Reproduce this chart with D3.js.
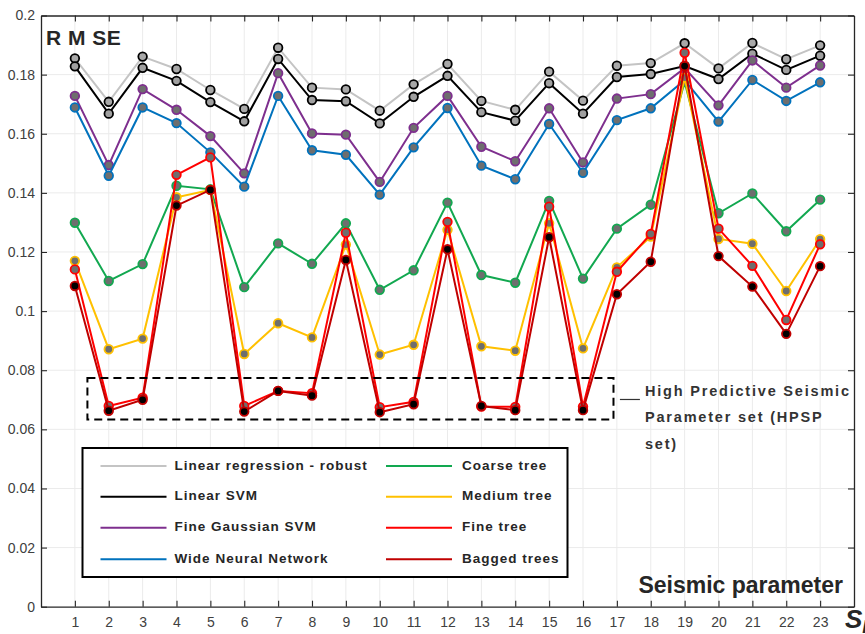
<!DOCTYPE html>
<html>
<head>
<meta charset="utf-8">
<script src="https://cdn.jsdelivr.net/npm/d3@7"></script>
<style>
  body { margin: 0; background: #fff; }
  text { font-family: "Liberation Sans", Arial, sans-serif; }
</style>
</head>
<body>
<svg id="chart"></svg>
<script>
// RMSE of each regression model for the 23 seismic parameters

var params = [1, 2, 3, 4, 5, 6, 7, 8, 9, 10, 11, 12, 13, 14, 15, 16, 17, 18, 19, 20, 21, 22, 23];
var yTicks = [0, 0.02, 0.04, 0.06, 0.08, 0.1, 0.12, 0.14, 0.16, 0.18, 0.2];

var linRegRobust = [0.1855, 0.1708, 0.1861, 0.1819, 0.1748, 0.1684, 0.1891, 0.1756, 0.1750, 0.1678, 0.1767, 0.1836,
  0.1711, 0.1681, 0.1810, 0.1712, 0.1830, 0.1839, 0.1906, 0.1821, 0.1907, 0.1852, 0.1899];
var linearSVM = [0.1828, 0.1668, 0.1823, 0.1779, 0.1707, 0.1642, 0.1853, 0.1714, 0.1710, 0.1635, 0.1725, 0.1796,
  0.1673, 0.1644, 0.1771, 0.1668, 0.1792, 0.1802, 0.1829, 0.1785, 0.1871, 0.1816, 0.1864];
var fineGaussSVM = [0.1728, 0.1494, 0.1751, 0.1681, 0.1592, 0.1466, 0.1805, 0.1601, 0.1597, 0.1437, 0.1620, 0.1728,
  0.1556, 0.1507, 0.1686, 0.1503, 0.1719, 0.1734, 0.1822, 0.1696, 0.1848, 0.1756, 0.1831];
var wideNN = [0.1689, 0.1458, 0.1689, 0.1636, 0.1537, 0.1421, 0.1728, 0.1544, 0.1529, 0.1394, 0.1554, 0.1687,
  0.1492, 0.1446, 0.1633, 0.1468, 0.1646, 0.1686, 0.1781, 0.1641, 0.1782, 0.1711, 0.1774];
var coarseTree = [0.1299, 0.1102, 0.1159, 0.1424, 0.1412, 0.1081, 0.1229, 0.1160, 0.1297, 0.1072, 0.1138, 0.1367,
  0.1122, 0.1096, 0.1373, 0.1110, 0.1279, 0.1360, 0.1775, 0.1331, 0.1398, 0.1270, 0.1377];
var mediumTree = [0.1170, 0.0871, 0.0907, 0.1385, 0.1410, 0.0855, 0.0959, 0.0911, 0.1225, 0.0853, 0.0886, 0.1275,
  0.0881, 0.0866, 0.1297, 0.0874, 0.1148, 0.1252, 0.1790, 0.1244, 0.1228, 0.1068, 0.1243];
var fineTree = [0.1141, 0.0679, 0.0707, 0.1461, 0.1520, 0.0679, 0.0730, 0.0722, 0.1265, 0.0675, 0.0693, 0.1302,
  0.0677, 0.0676, 0.1353, 0.0677, 0.1133, 0.1261, 0.1874, 0.1279, 0.1153, 0.0970, 0.1226];
var baggedTrees = [0.1085, 0.0663, 0.0700, 0.1357, 0.1410, 0.0660, 0.0730, 0.0714, 0.1173, 0.0658, 0.0685, 0.1209,
  0.0679, 0.0665, 0.1250, 0.0665, 0.1057, 0.1167, 0.1829, 0.1186, 0.1083, 0.0923, 0.1152];

var seriesNames = ["Linear regression - robust", "Linear SVM", "Fine Gaussian SVM", "Wide Neural Network",
  "Coarse tree", "Medium tree", "Fine tree", "Bagged trees"];
var seriesValues = [linRegRobust, linearSVM, fineGaussSVM, wideNN, coarseTree, mediumTree, fineTree, baggedTrees];
var lineColors = ["#c4c4c4", "#000000", "#7e2f8e", "#0072bd", "#12a850", "#ffc000", "#ff0000", "#c00000"];
var markerFills = ["#a8a8a8", "#a0a0a0", "#6e6e6e", "#6e6e6e", "#6e6e6e", "#6e6e6e", "#6e6e6e", "#000000"];
var markerEdges = ["#000000", "#000000", "#7e2f8e", "#0072bd", "#12a850", "#ffc000", "#ff0000", "#c00000"];

// dashed box around the HPSP points (parameter / RMSE units)
var hpspBox = { x0: 1.37, x1: 16.9, y0: 0.0633, y1: 0.0774 };
var hpspText = ["High Predictive Seismic", "Parameter set (HPSP", "set)"];

var width = 865, height = 634;
var margin = { top: 15.5, right: 11, bottom: 27.3, left: 41 };
var w = width - margin.left - margin.right;
var h = height - margin.top - margin.bottom;

var svg = d3.select("#chart")
  .attr("width", width)
  .attr("height", height);

var g = svg.append("g")
  .attr("transform", "translate(" + margin.left + "," + margin.top + ")");

var x = d3.scaleLinear().domain([0, 24]).range([0, w]);
var y = d3.scaleLinear().domain([0, 0.2]).range([h, 0]);

// grid
g.append("g").selectAll("line.hg")
  .data(yTicks.slice(1, -1))
  .enter().append("line")
  .attr("x1", 0).attr("x2", w)
  .attr("y1", d => y(d)).attr("y2", d => y(d))
  .attr("stroke", "#ebebeb").attr("stroke-width", 1);

g.append("g").selectAll("line.vg")
  .data(params)
  .enter().append("line")
  .attr("x1", d => x(d)).attr("x2", d => x(d))
  .attr("y1", 0).attr("y2", h)
  .attr("stroke", "#ebebeb").attr("stroke-width", 1);

// axes (box with inward ticks)
var axisColor = "#262626";
function styleAxis(sel) {
  sel.select(".domain").attr("stroke", axisColor).attr("stroke-width", 1.3);
  sel.selectAll(".tick line").attr("stroke", axisColor).attr("stroke-width", 1.1);
  sel.selectAll(".tick text").attr("fill", "#404040").style("font-size", "14px")
    .style("font-family", "'Liberation Sans', Arial, sans-serif");
}

g.append("g")
  .attr("transform", "translate(0," + h + ")")
  .call(d3.axisBottom(x).tickValues(params).tickSizeInner(-6).tickSizeOuter(0).tickPadding(10).tickFormat(d3.format("d")))
  .call(styleAxis);

g.append("g")
  .call(d3.axisTop(x).tickValues(params).tickSizeInner(-6).tickSizeOuter(0).tickFormat(""))
  .call(styleAxis);

g.append("g")
  .call(d3.axisLeft(y).tickValues(yTicks).tickSizeInner(-6).tickSizeOuter(0).tickPadding(6).tickFormat(d => d === 0 ? "0" : d3.format("~g")(d)))
  .call(styleAxis);

g.append("g")
  .attr("transform", "translate(" + w + ",0)")
  .call(d3.axisRight(y).tickValues(yTicks).tickSizeInner(-6).tickSizeOuter(0).tickFormat(""))
  .call(styleAxis);

// series
var line = d3.line()
  .x((d, i) => x(params[i]))
  .y(d => y(d));

seriesValues.forEach(function(vals, k) {
  var sg = g.append("g").attr("class", "series");
  sg.append("path")
    .datum(vals)
    .attr("d", line)
    .attr("fill", "none")
    .attr("stroke", lineColors[k])
    .attr("stroke-width", 2);
  sg.selectAll("circle")
    .data(vals)
    .enter().append("circle")
    .attr("cx", (d, i) => x(params[i]))
    .attr("cy", d => y(d))
    .attr("r", 4.3)
    .attr("fill", markerFills[k])
    .attr("stroke", markerEdges[k])
    .attr("stroke-width", 1.8);
});

// HPSP dashed box + note
g.append("rect")
  .attr("x", x(hpspBox.x0))
  .attr("y", y(hpspBox.y1))
  .attr("width", x(hpspBox.x1) - x(hpspBox.x0))
  .attr("height", y(hpspBox.y0) - y(hpspBox.y1))
  .attr("fill", "none")
  .attr("stroke", "#000")
  .attr("stroke-width", 2)
  .attr("stroke-dasharray", "8,5");

g.append("line")
  .attr("x1", x(17.09)).attr("x2", x(17.68))
  .attr("y1", y(0.0701)).attr("y2", y(0.0701))
  .attr("stroke", "#333").attr("stroke-width", 1.2);

g.append("text")
  .attr("x", x(17.83))
  .attr("y", y(0.0714))
  .attr("fill", "#333")
  .style("font-size", "14.5px")
  .style("font-weight", "bold")
  .style("letter-spacing", "1.8px")
  .selectAll("tspan")
  .data(hpspText)
  .enter().append("tspan")
  .attr("x", x(17.83))
  .attr("dy", (d, i) => i === 0 ? 0 : 26.5)
  .text(d => d);

// legend
var legend = g.append("g").attr("transform", "translate(41.5,432.5)");
legend.append("rect")
  .attr("width", 485).attr("height", 129)
  .attr("fill", "#fff")
  .attr("stroke", "#000")
  .attr("stroke-width", 2);

var rowY = [18, 48.7, 79.7, 111.3];
var colX = [18, 303.5];
seriesNames.forEach(function(name, k) {
  var col = Math.floor(k / 4), row = k % 4;
  var item = legend.append("g")
    .attr("transform", "translate(" + colX[col] + "," + rowY[row] + ")");
  item.append("line")
    .attr("x1", 0).attr("x2", 66)
    .attr("stroke", lineColors[k])
    .attr("stroke-width", 2);
  item.append("text")
    .attr("x", col === 0 ? 74 : 76)
    .attr("y", -1)
    .attr("dominant-baseline", "central")
    .attr("fill", "#262626")
    .style("font-size", "13.5px")
    .style("font-weight", "bold")
    .style("letter-spacing", "1px")
    .text(name);
});

// titles
g.append("text")
  .attr("x", 5).attr("y", 29.5)
  .attr("fill", "#262626")
  .style("font-size", "21px")
  .style("font-weight", "bold")
  .style("letter-spacing", "0.5px")
  .text("R M SE");

g.append("text")
  .attr("x", 802).attr("y", 577.5)
  .attr("text-anchor", "end")
  .attr("fill", "#262626")
  .style("font-size", "23px")
  .style("font-weight", "bold")
  .text("Seismic parameter");

svg.append("text")
  .attr("x", 845).attr("y", 628)
  .attr("fill", "#262626")
  .style("font-size", "26px")
  .style("font-weight", "bold")
  .style("font-style", "italic")
  .text("S")
  .append("tspan")
  .attr("dy", 5)
  .style("font-size", "18px")
  .text("P");
</script>
</body>
</html>
